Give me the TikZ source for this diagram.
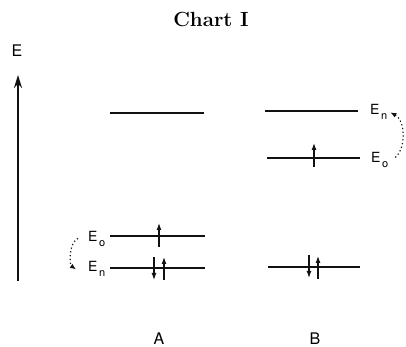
\documentclass[tikz,border=0pt]{standalone}
\usepackage{fontspec}
\usepackage{xcolor}
\usepackage{tikz}
\usetikzlibrary{arrows.meta,calc}
\newfontfamily\lblfont{TeX Gyre Heros}
\definecolor{inkmain}{HTML}{111111}
\tikzset{
  level/.style={inkmain,line width=2pt},
  electron/.style={-{Latex[length=7pt,width=5pt]},inkmain,line width=1.2pt},
  hop/.style={-{Latex[length=6pt,width=5pt]},inkmain,line width=1.2pt,
    dash pattern=on 1.2pt off 2.6pt},
  lbl/.style={font=\lblfont\fontsize{14}{14}\selectfont,inner sep=0pt},
  bigl/.style={font=\lblfont\fontsize{16}{16}\selectfont,inner sep=0pt}
}
\newcommand{\esub}[1]{E\kern1.5pt\raisebox{-5pt}{\fontsize{11}{11}\selectfont #1}}

\begin{document}
\begin{tikzpicture}[>=Stealth,x=1pt,y=1pt]
  \useasboundingbox (0,0) rectangle (406,347);
  \node[font=\bfseries\fontsize{20.5}{20.5}\selectfont,anchor=base]
    (title) at (211,320) {Chart I};
  % energy axis
  \coordinate (axlo) at (18,66);
  \coordinate (axhi) at (18,272);
  \draw[-{Stealth[length=13pt,width=8pt]},inkmain,line width=2.2pt] (axlo)--(axhi);
  \node[bigl,anchor=base] (eaxis) at (17,290) {E};
  % column A: levels
  \draw[level,line width=2.7pt] (110,234) coordinate (atl)--(204,234) coordinate (atr);
  \draw[level] (110,111) coordinate (aol)--(205,111) coordinate (aor);
  \draw[level] (110,79) coordinate (anl)--(205,79) coordinate (anr);
  \node[lbl,anchor=base west] (aEo) at (88,105) {\esub{o}};
  \node[lbl,anchor=base west] (aEn) at (88,75) {\esub{n}};
  \draw[hop] ([xshift=-10pt,yshift=1pt]aEo.west)
    .. controls +(-9,-4) and +(-7,5) .. ([xshift=-12pt]aEn.west);
  % column A: electrons
  \draw[electron] (159,100)--(159,124);
  \draw[electron] (154,90)--(154,67);
  \draw[electron] (164,67)--(164,90);
  \node[bigl,anchor=base] (colA) at (159,2.5) {A};
  % column B: levels
  \draw[level] (265,236) coordinate (btl)--(358,236) coordinate (btr);
  \draw[level] (267,189) coordinate (bol)--(360,189) coordinate (bor);
  \draw[level] (268,80) coordinate (bbl)--(360,80) coordinate (bbr);
  \node[lbl,anchor=base west] (bEn) at (370,232) {\esub{n}};
  \node[lbl,anchor=base west] (bEo) at (371,184) {\esub{o}};
  \draw[hop] ([xshift=7pt,yshift=3pt]bEo.east)
    .. controls +(11,10) and +(15,-8) .. ([xshift=3pt]bEn.east);
  % column B: electrons
  \draw[electron] (314,180)--(314,204);
  \draw[electron] (309,92)--(309,69);
  \draw[electron] (318,68)--(318,91);
  \node[bigl,anchor=base] (colB) at (315,2.5) {B};
\end{tikzpicture}
\end{document}
